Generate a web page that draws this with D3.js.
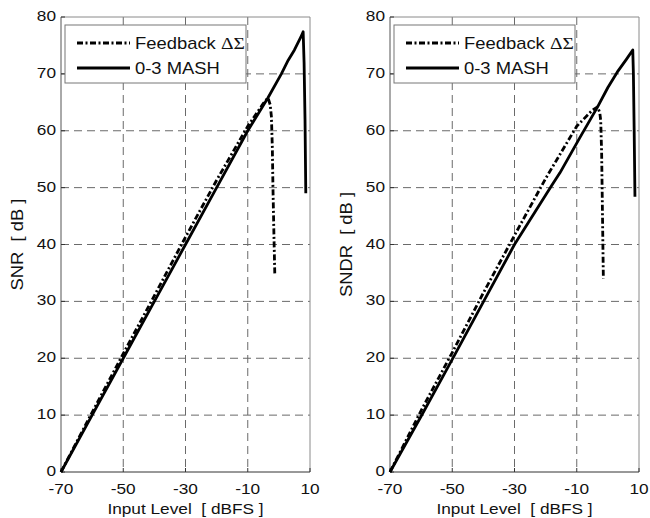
<!DOCTYPE html>
<html>
<head>
<meta charset="utf-8">
<script src="https://cdn.jsdelivr.net/npm/d3@7"></script>
<style>
  html, body { margin: 0; padding: 0; background: #fff; }
  svg { display: block; }
  text { white-space: pre; }
</style>
</head>
<body>
<div id="chart"></div>
<script>
// Input level ticks and output ticks (dB)
const xTicks = [-70, -50, -30, -10, 10];
const yTicks = [0, 10, 20, 30, 40, 50, 60, 70, 80];

// Left panel: SNR  — [input dBFS, dB]
const feedbackSNR = [[-70, 0], [-60, 10.5], [-50, 20.8], [-40, 31], [-30, 41.3], [-20, 51.3],
    [-10, 60.8], [-5, 64.8], [-3.5, 65.8], [-2.8, 64.6], [-2.4, 62.5], [-2.1, 57],
    [-1.9, 50], [-1.6, 42], [-1.3, 34.5]];
const mashSNR = [[-70, 0], [-60, 10], [-50, 20], [-40, 30], [-30, 40], [-20, 50], [-10, 60],
    [-3.5, 65.8], [0.8, 70], [3, 72.4], [5, 74.2], [7, 76.4], [7.8, 77.4], [8.1, 72],
    [8.4, 62], [8.65, 49]];

// Right panel: SNDR
const feedbackSNDR = [[-70, 0], [-60, 10.8], [-50, 21], [-40, 31.5], [-30, 41.6], [-20, 51.6],
    [-10, 60.8], [-5, 63.6], [-3.3, 64.2], [-2.6, 63.2], [-2.3, 61.8], [-2, 56],
    [-1.8, 48], [-1.6, 40], [-1.45, 34]];
const mashSNDR = [[-70, 0], [-60, 9.8], [-50, 19.8], [-40, 29.9], [-30, 40], [-18, 50.4],
    [-15.4, 52.6], [-9, 58.8], [-3.3, 64.2], [0, 67.6], [3, 70.3], [6, 72.6], [8, 74.2],
    [8.2, 70], [8.45, 60], [8.7, 48.4]];

const legendLabels = ["Feedback ", "0-3 MASH"];

const W = 650, H = 518;
const FONT = "'Liberation Sans', Arial, Helvetica, sans-serif";
const SX = 1.15; // the source figure is stretched sideways

const svg = d3.select("#chart").append("svg")
    .attr("width", W).attr("height", H);

function stretchedText(g, x, y, str, size, anchor) {
    return g.append("text")
        .attr("transform", `translate(${x},${y}) scale(${SX},1)`)
        .attr("text-anchor", anchor)
        .attr("font-family", FONT)
        .attr("font-size", size + "px")
        .attr("fill", "#111")
        .text(str);
}

function panel(left, yLabel, fbData, mashData) {
    const top = 17, bottom = 472, right = left + 249;
    const x = d3.scaleLinear().domain([-70, 10]).range([left, right]);
    const y = d3.scaleLinear().domain([0, 80]).range([bottom, top]);
    const g = svg.append("g");

    // grid
    g.selectAll(".vgrid").data(xTicks.slice(1, -1)).enter().append("line")
        .attr("x1", d => x(d)).attr("x2", d => x(d))
        .attr("y1", top).attr("y2", bottom)
        .attr("stroke", "#6a6a6a").attr("stroke-width", 1)
        .attr("stroke-dasharray", "8,5");
    g.selectAll(".hgrid").data(yTicks.slice(1, -1)).enter().append("line")
        .attr("x1", left).attr("x2", right)
        .attr("y1", d => y(d)).attr("y2", d => y(d))
        .attr("stroke", "#6a6a6a").attr("stroke-width", 1)
        .attr("stroke-dasharray", "8,5");

    // box
    g.append("line").attr("x1", left).attr("x2", right).attr("y1", top).attr("y2", top)
        .attr("stroke", "#8a8a8a");
    g.append("line").attr("x1", right).attr("x2", right).attr("y1", top).attr("y2", bottom)
        .attr("stroke", "#8a8a8a");
    g.append("line").attr("x1", left).attr("x2", left).attr("y1", top).attr("y2", bottom)
        .attr("stroke", "#555");
    g.append("line").attr("x1", left).attr("x2", right).attr("y1", bottom).attr("y2", bottom)
        .attr("stroke", "#333");

    // inward ticks
    g.selectAll(".xt").data(xTicks).enter().append("line")
        .attr("x1", d => x(d)).attr("x2", d => x(d))
        .attr("y1", bottom).attr("y2", bottom - 4).attr("stroke", "#333");
    g.selectAll(".yt").data(yTicks).enter().append("line")
        .attr("x1", left).attr("x2", left + 4)
        .attr("y1", d => y(d)).attr("y2", d => y(d)).attr("stroke", "#333");

    // tick labels
    xTicks.forEach(t => stretchedText(g, x(t), 493.5, t, 15, "middle"));
    yTicks.forEach(t => stretchedText(g, left - 5, y(t) + 4, t, 15, "end"));

    // axis titles
    stretchedText(g, (left + right) / 2, 513.5, "Input Level  [ dBFS ]", 15, "middle");
    g.append("text")
        .attr("transform", `translate(${left - 38},${(top + bottom) / 2}) rotate(-90) scale(1.08,1)`)
        .attr("text-anchor", "middle")
        .attr("font-family", FONT)
        .attr("font-size", "17px")
        .attr("fill", "#111")
        .text(yLabel);

    // curves
    const line = d3.line().x(d => x(d[0])).y(d => y(d[1]));
    g.append("path").datum(mashData).attr("d", line)
        .attr("fill", "none").attr("stroke", "#000").attr("stroke-width", 2.8)
        .attr("stroke-linejoin", "round");
    g.append("path").datum(fbData).attr("d", line)
        .attr("fill", "none").attr("stroke", "#000").attr("stroke-width", 2.8)
        .attr("stroke-dasharray", "6,2.5,2,2.5");

    // legend
    const lx = left + 4, ly = 25;
    g.append("rect").attr("x", lx).attr("y", ly).attr("width", 181).attr("height", 58)
        .attr("fill", "#fff").attr("stroke", "#777").attr("stroke-width", 1);
    const rows = [{ dash: "6,2.5,2,2.5", label: legendLabels[0], sym: "ΔΣ" },
                  { dash: null, label: legendLabels[1], sym: "" }];
    rows.forEach((r, i) => {
        const ry = ly + 18 + i * 25;
        g.append("line").attr("x1", lx + 12).attr("x2", lx + 65)
            .attr("y1", ry).attr("y2", ry)
            .attr("stroke", "#000").attr("stroke-width", 2.8)
            .attr("stroke-dasharray", r.dash);
        const t = stretchedText(g, lx + 70, ry + 6, r.label, 16, "start");
        if (r.sym) {
            t.append("tspan")
                .attr("font-family", "'Liberation Serif', 'DejaVu Serif', serif")
                .attr("font-size", "17px")
                .text(r.sym);
        }
    });
}

panel(61, "SNR  [ dB ]", feedbackSNR, mashSNR);
panel(390, "SNDR  [ dB ]", feedbackSNDR, mashSNDR);
</script>
</body>
</html>
